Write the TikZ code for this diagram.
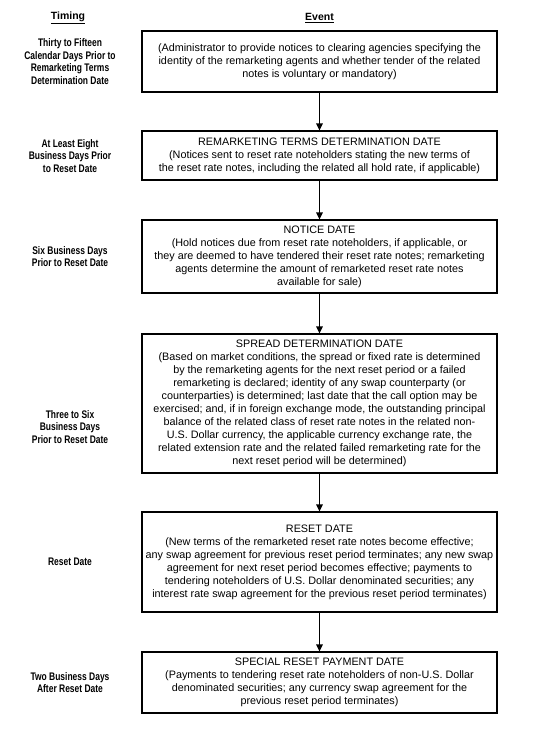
\documentclass[tikz,border=0pt]{standalone}
\usepackage{fontspec}
\setmainfont{Liberation Sans}
\newfontfamily\labfont[FakeStretch=0.77]{Liberation Sans}
\usetikzlibrary{arrows.meta}
\begin{document}
\begin{tikzpicture}[x=1pt,y=-1pt,
  evbox/.style={draw=black, line width=1.1pt, rectangle, minimum width=355pt,
    inner xsep=1pt, inner ysep=0pt, align=center,
    font=\fontsize{10.8}{13}\selectfont},
  timelab/.style={align=center, inner sep=0pt, font=\labfont\bfseries\fontsize{11}{12.7}\selectfont},
  headlab/.style={inner sep=0pt, font=\bfseries\fontsize{10.5}{12}\selectfont},
  flow/.style={line width=1.3pt, -{Triangle[length=7pt,width=6.5pt]}}]
\useasboundingbox[fill=white] (0,0) rectangle (533,732);

\node[headlab] (hT) at (68,18) {\underline{Timing}};
\node[headlab] (hE) at (319.5,18) {\underline{Event}};

\node[evbox, minimum height=61pt] (b1) at (319.5,61.5)
  {(Administrator to provide notices to clearing agencies specifying the\\
   identity of the remarketing agents and whether tender of the related\\
   notes is voluntary or mandatory)};
\node[evbox, minimum height=49pt] (b2) at (319.5,155.5)
  {REMARKETING TERMS DETERMINATION DATE\\
   (Notices sent to reset rate noteholders stating the new terms of\\
   the reset rate notes, including the related all hold rate, if applicable)};
\node[evbox, minimum height=73pt] (b3) at (319.5,256.5)
  {NOTICE DATE\\
   (Hold notices due from reset rate noteholders, if applicable, or\\
   they are deemed to have tendered their reset rate notes; remarketing\\
   agents determine the amount of remarketed reset rate notes\\
   available for sale)};
\node[evbox, minimum height=139pt] (b4) at (319.5,403.5)
  {SPREAD DETERMINATION DATE\\
   (Based on market conditions, the spread or fixed rate is determined\\
   by the remarketing agents for the next reset period or a failed\\
   remarketing is declared; identity of any swap counterparty (or\\
   counterparties) is determined; last date that the call option may be\\
   exercised; and, if in foreign exchange mode, the outstanding principal\\
   balance of the related class of reset rate notes in the related non-\\
   U.S. Dollar currency, the applicable currency exchange rate, the\\
   related extension rate and the related failed remarketing rate for the\\
   next reset period will be determined)};
\node[evbox, minimum height=100pt] (b5) at (319.5,562)
  {RESET DATE\\
   (New terms of the remarketed reset rate notes become effective;\\
   any swap agreement for previous reset period terminates; any new swap\\
   agreement for next reset period becomes effective; payments to\\
   tendering noteholders of U.S. Dollar denominated securities; any\\
   interest rate swap agreement for the previous reset period terminates)};
\node[evbox, minimum height=61pt] (b6) at (319.5,682.5)
  {SPECIAL RESET PAYMENT DATE\\
   (Payments to tendering reset rate noteholders of non-U.S. Dollar\\
   denominated securities; any currency swap agreement for the\\
   previous reset period terminates)};

\node[timelab] (t1) at (70,61.5) {Thirty to Fifteen\\Calendar Days Prior to\\Remarketing Terms\\Determination Date};
\node[timelab] (t2) at (70,156) {At Least Eight\\Business Days Prior\\to Reset Date};
\node[timelab] (t3) at (70,256.5) {Six Business Days\\Prior to Reset Date};
\node[timelab] (t4) at (70,427) {Three to Six\\Business Days\\Prior to Reset Date};
\node[timelab] (t5) at (70,562) {Reset Date};
\node[timelab] (t6) at (70,682.5) {Two Business Days\\After Reset Date};

\draw[flow] (b1.south) -- (b2.north);
\draw[flow] (b2.south) -- (b3.north);
\draw[flow] (b3.south) -- (b4.north);
\draw[flow] (b4.south) -- (b5.north);
\draw[flow] (b5.south) -- (b6.north);
\end{tikzpicture}
\end{document}
